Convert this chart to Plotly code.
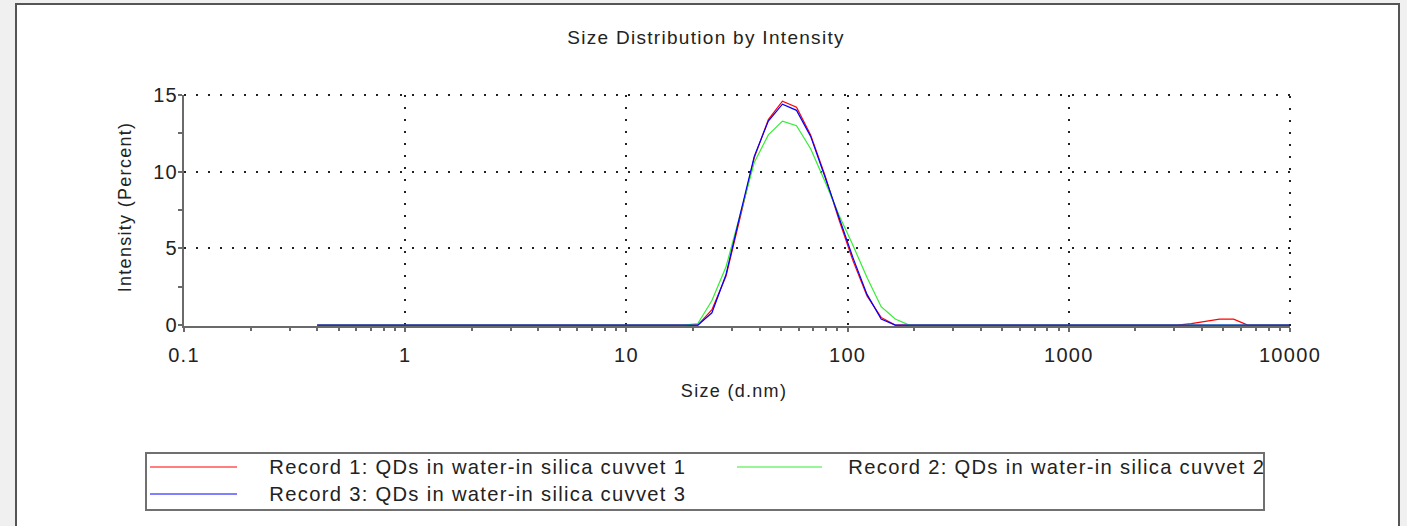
import plotly.graph_objects as go

# Size bins (d.nm)
sizes = [0.4000, 0.4632, 0.5365, 0.6213, 0.7195, 0.8332, 0.9649, 1.117, 1.294, 1.499,
         1.736, 2.010, 2.328, 2.696, 3.122, 3.615, 4.187, 4.849, 5.615, 6.503,
         7.531, 8.721, 10.10, 11.70, 13.54, 15.69, 18.17, 21.04, 24.36, 28.21,
         32.67, 37.84, 43.82, 50.75, 58.77, 68.06, 78.82, 91.28, 105.7, 122.4,
         141.8, 164.2, 190.1, 220.2, 255.0, 295.3, 342.0, 396.1, 458.7, 531.2,
         615.1, 712.4, 825.0, 955.4, 1106, 1281, 1484, 1718, 1990, 2305,
         2669, 3091, 3580, 4145, 4801, 5560, 6439, 7456, 8635, 10000]

record1 = [0, 0, 0, 0, 0, 0, 0, 0, 0, 0,
           0, 0, 0, 0, 0, 0, 0, 0, 0, 0,
           0, 0, 0, 0, 0, 0, 0, 0, 1.0, 3.2,
           7.0, 10.9, 13.4, 14.6, 14.2, 12.4, 9.8, 6.9, 4.2, 1.9,
           0.5, 0, 0, 0, 0, 0, 0, 0, 0, 0,
           0, 0, 0, 0, 0, 0, 0, 0, 0, 0,
           0, 0, 0.1, 0.26, 0.39, 0.39, 0, 0, 0, 0]

record2 = [0, 0, 0, 0, 0, 0, 0, 0, 0, 0,
           0, 0, 0, 0, 0, 0, 0, 0, 0, 0,
           0, 0, 0, 0, 0, 0, 0, 0.1, 1.6, 3.8,
           7.2, 10.6, 12.4, 13.3, 13.0, 11.5, 9.4, 7.2, 5.2, 3.1,
           1.2, 0.4, 0, 0, 0, 0, 0, 0, 0, 0,
           0, 0, 0, 0, 0, 0, 0, 0, 0, 0,
           0, 0, 0, 0, 0, 0, 0, 0, 0, 0]

record3 = [0, 0, 0, 0, 0, 0, 0, 0, 0, 0,
           0, 0, 0, 0, 0, 0, 0, 0, 0, 0,
           0, 0, 0, 0, 0, 0, 0, 0, 0.8, 3.3,
           7.2, 11.0, 13.3, 14.4, 14.0, 12.3, 9.7, 7.0, 4.4, 2.0,
           0.4, 0, 0, 0, 0, 0, 0, 0, 0, 0,
           0, 0, 0, 0, 0, 0, 0, 0, 0, 0,
           0, 0, 0, 0, 0, 0, 0, 0, 0, 0]

names = ["Record 1: QDs in water-in silica cuvvet 1",
         "Record 2: QDs in water-in silica cuvvet 2",
         "Record 3: QDs in water-in silica cuvvet 3"]
colors = ["#ff0000", "#33ee33", "#0000ff"]

x_tickvals = [0.1, 1, 10, 100, 1000, 10000]
x_ticktext = ["0.1", "1", "10", "100", "1000", "10000"]
x_minor = [m * d for d in [0.1, 1, 10, 100, 1000] for m in range(2, 10)]
y_tickvals = [0, 5, 10, 15]
y_minor = [2.5, 7.5, 12.5]
y_range = [-0.06, 15]

W, H = 1407, 526
L, R, T, B = 184, 1290, 95, 326
FONT = "Liberation Sans, Arial, sans-serif"
TXT = "#222222"
GRID = "#222222"
AXIS = "#6a6a6a"
DOT = "2px,10px"
SPACING = 1.3

fig = go.Figure()
for y, nm, c in zip([record1, record2, record3], names, colors):
    fig.add_trace(go.Scatter(x=sizes, y=y, mode="lines", name=nm,
                             line=dict(color=c, width=1.2), showlegend=False))


def px_x(p):
    return (p - L) / (R - L)


def px_y(p):
    return (B - p) / (B - T)


shapes = [
    # page box
    dict(type="rect", xref="paper", yref="paper", layer="below",
         x0=px_x(16), x1=px_x(1399), y0=px_y(540), y1=px_y(4),
         fillcolor="white", line=dict(color="#555555", width=2)),
    # grid lines on the top and right edges of the plot
    dict(type="line", xref="paper", yref="paper", x0=0, x1=1, y0=1, y1=1,
         line=dict(color=GRID, width=2, dash=DOT)),
    dict(type="line", xref="paper", yref="paper", x0=1, x1=1, y0=0, y1=1,
         line=dict(color=GRID, width=2, dash=DOT)),
    # legend box
    dict(type="rect", xref="paper", yref="paper",
         x0=px_x(146), x1=px_x(1264), y0=px_y(510), y1=px_y(453),
         fillcolor="rgba(0,0,0,0)", line=dict(color="#707070", width=2)),
]
annotations = []
legend_pos = [(150, 237, 267, 467), (737, 822, 846, 467), (150, 237, 267, 494)]
for (lx0, lx1, tx, ly), nm, c in zip(legend_pos, names, colors):
    shapes.append(dict(type="line", xref="paper", yref="paper",
                       x0=px_x(lx0), x1=px_x(lx1), y0=px_y(ly), y1=px_y(ly),
                       line=dict(color=c, width=1.2)))
    annotations.append(dict(text=nm, xref="paper", yref="paper",
                            x=px_x(tx), y=px_y(ly), xanchor="left", yanchor="middle",
                            xshift=len(nm) * SPACING / 2,
                            showarrow=False, font=dict(size=20.2, color=TXT, family=FONT)))

annotations.append(dict(text="Size (d.nm)", xref="paper", yref="paper",
                        x=px_x(734), y=px_y(391), xanchor="center", yanchor="middle",
                        showarrow=False, font=dict(size=18, color=TXT, family=FONT)))
annotations.append(dict(text="Intensity (Percent)", xref="paper", yref="paper",
                        x=px_x(125), y=px_y(207), xanchor="center", yanchor="middle",
                        textangle=-90, showarrow=False,
                        font=dict(size=18, color=TXT, family=FONT)))

axis_common = dict(showline=True, linecolor=AXIS, linewidth=2, layer="below traces",
                   ticks="outside", ticklen=4, tickcolor=AXIS, tickwidth=1.5,
                   showgrid=True, gridcolor=GRID, gridwidth=2, griddash=DOT,
                   zeroline=False, tickfont=dict(size=20, color=TXT, family=FONT))

# overlay axes carrying the inner half of the ticks (ticks cross the axis lines)
inner_common = dict(showline=False, showgrid=False, zeroline=False, showticklabels=False,
                    ticks="inside", ticklen=4, tickcolor=AXIS, tickwidth=1.5,
                    layer="below traces")

fig.update_layout(
    width=W, height=H,
    margin=dict(l=L, r=W - R, t=T, b=H - B),
    paper_bgcolor="#f0f0f0", plot_bgcolor="white",
    title=dict(text="Size Distribution by Intensity", x=706 / W, xanchor="center",
               y=1 - 37 / H, yanchor="middle", xref="container", yref="container",
               font=dict(size=19, color=TXT, family=FONT)),
    xaxis=dict(type="log", range=[-1, 4], tickmode="array", tickvals=x_tickvals,
               ticktext=x_ticktext, ticklabelstandoff=6,
               minor=dict(tickmode="array", tickvals=x_minor, ticks="outside", ticklen=3,
                          tickcolor=AXIS, showgrid=False),
               **axis_common),
    yaxis=dict(range=y_range, tickmode="array", tickvals=y_tickvals,
               ticklabelstandoff=-4,
               minor=dict(tickmode="array", tickvals=y_minor, ticks="outside", ticklen=4,
                          tickcolor=AXIS, showgrid=False),
               **axis_common),
    xaxis2=dict(type="log", range=[-1, 4], overlaying="x", anchor="y", side="bottom",
                tickmode="array", tickvals=x_tickvals,
                minor=dict(tickmode="array", tickvals=x_minor, ticks="inside", ticklen=3,
                           tickcolor=AXIS, showgrid=False),
                **inner_common),
    yaxis2=dict(range=y_range, overlaying="y", anchor="x", side="left",
                tickmode="array", tickvals=y_tickvals,
                minor=dict(tickmode="array", tickvals=y_minor, ticks="inside", ticklen=4,
                           tickcolor=AXIS, showgrid=False),
                **inner_common),
    shapes=shapes, annotations=annotations,
    showlegend=False,
)

# The source renders its text with slightly wider letter spacing
post = ("var s=document.createElement('style');"
        "s.textContent='.main-svg text{letter-spacing:%spx}';"
        "document.head.appendChild(s);" % SPACING)

fig.write_html("out.html", post_script=post)
